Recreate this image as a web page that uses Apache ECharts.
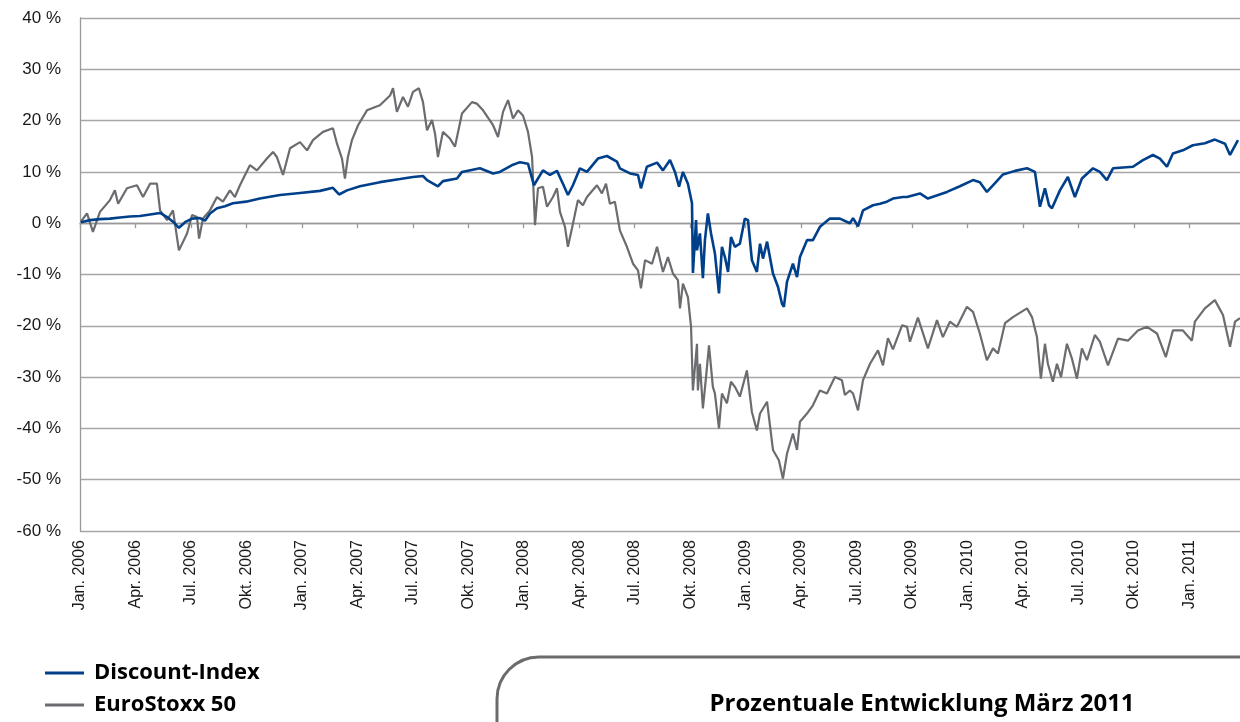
<!DOCTYPE html>
<html>
<head>
<meta charset="utf-8">
<script src="https://cdn.jsdelivr.net/npm/echarts@6/dist/echarts.min.js"></script>
<style>
html,body{margin:0;padding:0;background:#fff;}
#chart{width:1240px;height:722px;}
</style>
</head>
<body>
<div id="chart"></div>
<script>
// x values: months since 1 Jan 2006
const discountMonths = [0.05,0.54,1.08,1.62,2.16,2.70,3.24,3.79,4.33,4.71,
5.03,5.35,5.68,6.06,6.49,6.76,7.03,7.41,7.84,8.27,
8.98,9.73,10.82,11.90,12.98,13.68,14.01,14.44,15.14,16.22,
17.31,18.01,18.55,18.77,19.36,19.63,20.39,20.66,21.63,22.34,
22.71,23.42,23.80,24.23,24.55,25.04,25.42,25.80,26.12,26.39,
26.66,27.04,27.42,28.01,28.50,29.04,29.20,29.75,30.18,30.34,
30.66,31.21,31.53,31.91,32.18,32.40,32.61,32.88,33.10,33.15,
33.32,33.37,33.53,33.69,33.80,33.96,34.13,34.34,34.56,34.72,
34.88,35.05,35.21,35.42,35.69,35.96,36.13,36.34,36.61,36.78,
36.94,37.16,37.48,37.75,37.97,38.07,38.24,38.56,38.78,38.94,
39.32,39.64,40.02,40.56,41.10,41.64,41.81,42.08,42.35,42.89,
43.27,43.64,43.97,44.51,44.73,45.43,45.86,46.89,47.59,48.30,
48.67,49.05,49.49,49.92,50.57,51.22,51.65,51.92,52.19,52.41,
52.57,53.00,53.43,53.81,54.19,54.79,55.16,55.54,55.87,56.95,
57.49,58.03,58.41,58.79,59.11,59.65,60.19,60.84,61.38,61.93,
62.20,62.63];
const discountValues = [0.2,0.6,0.8,0.9,1.1,1.3,1.4,1.7,2.0,1.2,
0.3,-0.9,0.2,0.9,1.0,0.5,1.9,2.9,3.3,3.9,
4.2,4.8,5.5,5.9,6.3,6.9,5.6,6.4,7.2,8.0,
8.6,9.0,9.2,8.4,7.2,8.2,8.7,10.0,10.7,9.7,
10.0,11.4,11.9,11.6,7.4,10.3,9.4,10.2,7.7,5.5,
7.4,10.7,10.0,12.6,13.1,12.0,10.7,9.7,9.4,6.8,
11.0,11.8,10.3,12.3,10.0,7.1,10.0,7.7,3.9,-9.7,
0.6,-5.3,-2.0,-10.7,-3.3,1.9,-2.0,-5.9,-13.7,-4.6,
-6.6,-9.5,-2.7,-4.6,-4.0,0.9,0.6,-7.2,-9.5,-4.0,
-6.9,-3.6,-9.8,-12.4,-15.7,-16.3,-11.4,-7.9,-10.5,-6.6,
-3.3,-3.3,-0.7,0.9,0.9,0.0,1.0,-0.6,2.5,3.5,
3.8,4.2,4.8,5.1,5.1,5.8,4.8,6.1,7.2,8.4,
8.0,6.1,7.8,9.5,10.2,10.7,10.0,3.2,6.8,3.5,
2.9,6.4,9.0,5.1,8.7,10.7,10.0,8.4,10.7,11.0,
12.3,13.3,12.6,11.0,13.6,14.2,15.2,15.6,16.3,15.5,
13.3,16.2];

const stoxxMonths = [0.05,0.38,0.70,1.08,1.62,1.89,2.06,2.54,3.08,3.41,
3.79,4.16,4.33,4.71,5.03,5.35,5.79,6.06,6.33,6.44,
6.65,7.03,7.41,7.73,8.11,8.38,8.65,9.19,9.57,10.11,
10.44,10.65,10.98,11.36,11.90,12.28,12.60,13.14,13.68,13.90,
14.17,14.33,14.49,14.71,15.04,15.52,16.22,16.77,16.93,17.14,
17.47,17.74,18.01,18.33,18.55,18.77,19.04,19.20,19.36,19.63,
20.01,20.28,20.66,21.20,21.47,21.80,22.34,22.61,22.88,23.15,
23.42,23.69,23.96,24.23,24.45,24.61,24.77,25.04,25.26,25.58,
25.80,25.96,26.23,26.39,26.61,26.93,27.20,27.42,27.96,28.23,
28.45,28.66,28.93,29.20,29.58,29.91,30.18,30.34,30.56,30.94,
31.21,31.53,31.80,32.07,32.34,32.45,32.61,32.88,33.05,33.15,
33.37,33.42,33.53,33.69,33.86,34.02,34.23,34.34,34.56,34.72,
34.99,35.21,35.42,35.69,36.07,36.34,36.61,36.78,37.16,37.48,
37.80,38.02,38.24,38.56,38.78,38.94,39.32,39.64,40.02,40.40,
40.83,41.21,41.37,41.64,41.81,42.08,42.35,42.73,43.16,43.43,
43.70,43.97,44.46,44.73,44.89,45.32,45.86,46.35,46.67,47.05,
47.43,47.97,48.30,48.67,49.05,49.38,49.65,50.03,50.46,51.22,
51.49,51.76,51.97,52.19,52.35,52.62,52.84,53.06,53.38,53.65,
53.92,54.19,54.46,54.89,55.16,55.60,56.14,56.68,57.22,57.71,
58.25,58.73,59.11,59.65,60.14,60.30,60.84,61.38,61.82,62.20,
62.47,62.74];
const stoxxValues = [0.3,1.9,-1.7,2.2,4.5,6.4,3.8,6.8,7.4,5.1,
7.7,7.7,2.5,0.6,2.5,-5.3,-2.0,1.6,1.2,-3.0,
0.9,2.5,5.1,4.2,6.4,5.1,7.4,11.3,10.3,12.6,
13.9,12.9,9.4,14.6,15.8,14.2,16.2,17.8,18.5,15.5,
12.6,8.7,12.9,16.2,19.1,22.0,23.0,24.9,26.3,21.7,
24.6,22.7,25.6,26.3,23.6,18.1,20.1,17.5,12.9,17.8,
16.5,14.9,21.4,23.6,23.3,22.0,19.1,16.8,21.7,24.0,
20.4,22.0,21.0,17.8,12.9,-0.4,6.8,7.1,3.2,5.1,
6.8,2.2,-0.7,-4.6,-1.0,4.5,3.5,5.1,7.4,5.8,
7.7,3.8,4.2,-1.4,-4.6,-7.9,-9.2,-12.7,-7.2,-7.9,
-4.6,-9.5,-6.6,-9.8,-11.1,-16.6,-11.8,-14.4,-20.2,-32.6,
-23.5,-32.6,-27.4,-36.1,-30.0,-23.8,-31.9,-33.2,-40.0,-33.2,
-35.1,-30.9,-31.9,-33.8,-28.7,-36.8,-40.4,-37.1,-34.8,-44.2,
-46.2,-49.8,-44.9,-41.0,-44.2,-38.7,-37.1,-35.5,-32.6,-33.2,
-30.0,-30.6,-33.5,-32.6,-33.2,-36.5,-30.6,-27.4,-24.8,-27.7,
-22.4,-24.6,-19.9,-20.2,-23.1,-18.4,-24.4,-18.9,-22.2,-19.2,
-20.2,-16.3,-17.3,-21.5,-26.7,-24.4,-25.4,-19.5,-18.3,-16.6,
-18.3,-22.2,-30.3,-23.5,-27.4,-30.9,-27.4,-30.0,-23.5,-26.4,
-30.3,-24.4,-26.7,-21.8,-23.1,-27.7,-22.5,-22.9,-20.9,-20.2,
-21.5,-26.1,-20.9,-20.9,-22.9,-19.2,-16.6,-15.0,-17.9,-24.1,
-19.2,-18.5];

const quarterNames = ['Jan.', 'Apr.', 'Jul.', 'Okt.'];
const startYear = 2006;
const seriesNames = ['Discount-Index', 'EuroStoxx 50'];
const boxTitle = 'Prozentuale Entwicklung März 2011';

function pairs(xs, ys) {
  const n = Math.min(xs.length, ys.length);
  const out = [];
  for (let i = 0; i < n; i++) out.push([xs[i], ys[i]]);
  return out;
}

const chart = echarts.init(document.getElementById('chart'), null, {renderer: 'canvas'});
chart.setOption({
  backgroundColor: '#ffffff',
  animation: false,
  grid: {left: 80, right: 0, top: 18, bottom: 191},
  legend: {
    data: seriesNames,
    orient: 'vertical',
    left: 45,
    top: 662,
    padding: 0,
    itemWidth: 39,
    itemHeight: 3,
    itemGap: 10,
    icon: 'rect',
    textStyle: {
      fontFamily: 'Open Sans',
      fontWeight: 'bold',
      fontSize: 22,
      color: '#000',
      padding: [0, 0, 0, 5]
    }
  },
  xAxis: {
    type: 'value',
    min: 0,
    max: 62.74,
    interval: 3,
    axisLine: {show: true, lineStyle: {color: '#999999', width: 1.3}},
    axisTick: {show: true, length: 5, lineStyle: {color: '#999999', width: 1.3}},
    splitLine: {show: false},
    axisLabel: {
      rotate: 90,
      margin: 9,
      fontFamily: 'Liberation Sans',
      fontSize: 16,
      color: '#1a1a1a',
      showMaxLabel: false,
      formatter: function (v) {
        const m = Math.round(v);
        if (Math.abs(v - m) > 0.01 || m % 3 !== 0) return '';
        return quarterNames[(m % 12) / 3] + ' ' + (startYear + Math.floor(m / 12));
      }
    }
  },
  yAxis: {
    type: 'value',
    min: -60,
    max: 40,
    interval: 10,
    axisLine: {show: true, lineStyle: {color: '#999999', width: 1.3}},
    axisTick: {show: false},
    splitLine: {show: true, lineStyle: {color: '#a6a6a6', width: 1.3}},
    axisLabel: {
      margin: 19,
      fontFamily: 'Liberation Sans',
      fontSize: 17,
      color: '#1a1a1a',
      formatter: function (v) { return v + ' %'; }
    }
  },
  series: [
    {
      name: seriesNames[1],
      type: 'line',
      data: pairs(stoxxMonths, stoxxValues),
      showSymbol: false,
      symbol: 'none',
      lineStyle: {color: '#6b6c70', width: 2.2},
      itemStyle: {color: '#6b6c70'},
      z: 2
    },
    {
      name: seriesNames[0],
      type: 'line',
      data: pairs(discountMonths, discountValues),
      showSymbol: false,
      symbol: 'none',
      lineStyle: {color: '#00408a', width: 2.6},
      itemStyle: {color: '#00408a'},
      z: 3
    }
  ],
  graphic: [
    {
      type: 'rect',
      shape: {x: 497, y: 657, width: 820, height: 200, r: 42},
      style: {fill: 'none', stroke: '#6b6b6b', lineWidth: 3}
    },
    {
      type: 'text',
      x: 922,
      y: 704,
      style: {
        text: boxTitle,
        fontFamily: 'Open Sans',
        fontWeight: 'bold',
        fontSize: 24,
        fill: '#000',
        textAlign: 'center',
        textVerticalAlign: 'middle'
      }
    }
  ]
});
</script>
</body>
</html>
